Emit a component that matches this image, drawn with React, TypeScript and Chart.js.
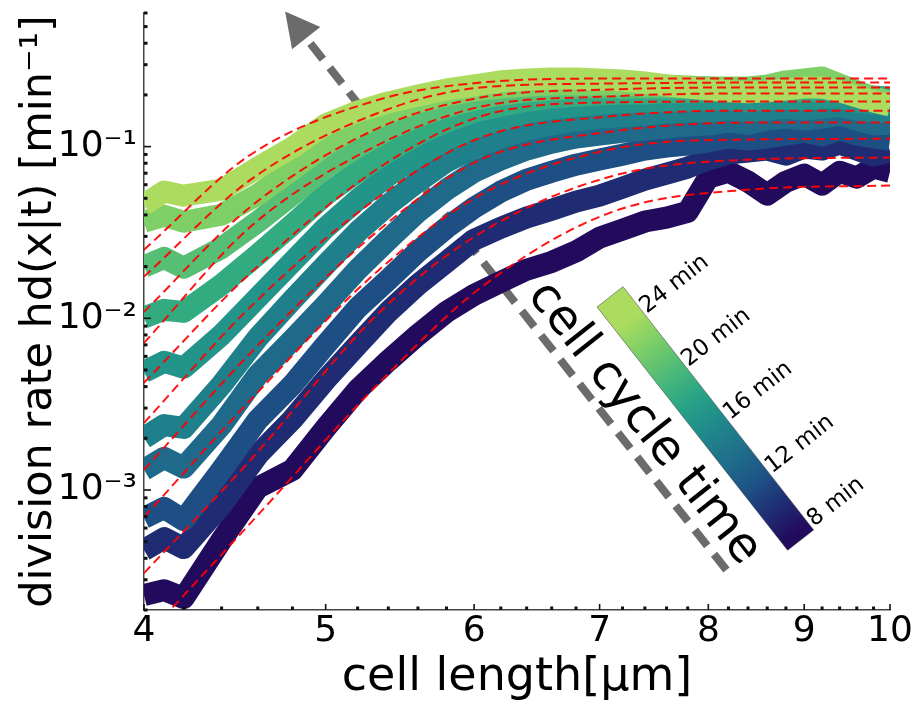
import React, { useEffect, useRef } from 'react';
import { Chart, registerables } from 'chart.js';

Chart.register(...registerables);

const FONT = '"DejaVu Sans", sans-serif';

// ---- axes ----
const X_TICKS = [4, 5, 6, 7, 8, 9, 10];
const X_TICK_LABELS = ['4', '5', '6', '7', '8', '9', '10'];
const X_MINOR = [4.2, 4.4, 4.6, 4.8, 5.2, 5.4, 5.6, 5.8, 6.2, 6.4, 6.6, 6.8, 7.2, 7.4, 7.6, 7.8, 8.2, 8.4, 8.6, 8.8, 9.2, 9.4, 9.6, 9.8];
const Y_TICKS = [0.001, 0.01, 0.1];
const Y_TICK_LABELS = ['10⁻³', '10⁻²', '10⁻¹'];
const Y_MINOR = [
  0.0002, 0.0003, 0.0004, 0.0005, 0.0006, 0.0007, 0.0008, 0.0009,
  0.002, 0.003, 0.004, 0.005, 0.006, 0.007, 0.008, 0.009,
  0.02, 0.03, 0.04, 0.05, 0.06, 0.07, 0.08, 0.09,
  0.2, 0.3, 0.4, 0.5, 0.6,
];
const X_MIN = 4;
const X_MAX = 10;
const Y_MIN = 0.0002;
const Y_MAX = 0.6;
const X_TITLE = 'cell length[μm]';
const Y_TITLE = 'division rate hd(x|t) [min⁻¹]';

// ---- measured division rates (cell length grid) ----
const X_VALUES = [4.0, 4.1, 4.2, 4.4, 4.6, 4.8, 5.0, 5.2, 5.4, 5.6, 5.8, 6.0, 6.2, 6.4, 6.6, 6.8, 7.0, 7.2, 7.4, 7.6, 7.8, 8.0, 8.2, 8.4, 8.6, 8.8, 9.0, 9.2, 9.4, 9.6, 9.8, 10.0];

const CYCLE_TIMES = [8, 9.8, 11.6, 13.3, 15.1, 16.9, 18.7, 20.4, 22.2, 24];

const RATE_T08 = [0.000244, 0.000261, 0.000235, 0.000511, 0.00103, 0.00131, 0.0023, 0.00383, 0.00565, 0.00801, 0.0109, 0.0137, 0.0163, 0.0192, 0.0213, 0.0245, 0.0295, 0.0328, 0.0366, 0.0386, 0.0417, 0.066, 0.0714, 0.0625, 0.0525, 0.0625, 0.0687, 0.06, 0.0714, 0.066, 0.0755, 0.0714];
const RATE_T10 = [0.000447, 0.000524, 0.000459, 0.000818, 0.0016, 0.00258, 0.00438, 0.007, 0.0109, 0.0157, 0.0213, 0.0287, 0.0337, 0.0386, 0.0429, 0.0478, 0.0518, 0.0577, 0.0642, 0.0696, 0.0755, 0.084, 0.091, 0.0935, 0.0961, 0.0898, 0.0987, 0.0961, 0.104, 0.0961, 0.0886, 0.0935];
const RATE_T12 = [0.000687, 0.000787, 0.000668, 0.00131, 0.00256, 0.0041, 0.007, 0.0115, 0.0168, 0.0245, 0.0337, 0.0441, 0.0547, 0.0642, 0.0714, 0.0785, 0.084, 0.0898, 0.0961, 0.1, 0.1027, 0.107, 0.113, 0.11, 0.113, 0.1175, 0.122, 0.116, 0.1257, 0.1175, 0.113, 0.11];
const RATE_T13 = [0.00131, 0.00154, 0.00135, 0.00239, 0.00468, 0.00749, 0.012, 0.0192, 0.0287, 0.0417, 0.0562, 0.0714, 0.084, 0.0961, 0.1055, 0.113, 0.1175, 0.122, 0.1257, 0.129, 0.1326, 0.1344, 0.14, 0.136, 0.1437, 0.1476, 0.1437, 0.1476, 0.1537, 0.1437, 0.1344, 0.136];
const RATE_T15 = [0.00201, 0.00239, 0.0023, 0.0041, 0.0077, 0.0128, 0.0205, 0.0319, 0.0459, 0.0625, 0.0818, 0.0987, 0.113, 0.1257, 0.1344, 0.142, 0.1476, 0.15, 0.1537, 0.158, 0.16, 0.16, 0.1644, 0.16, 0.1644, 0.169, 0.1644, 0.169, 0.173, 0.1644, 0.16, 0.16];
const RATE_T17 = [0.00488, 0.00558, 0.00515, 0.00801, 0.0132, 0.0213, 0.0337, 0.0491, 0.0678, 0.0886, 0.11, 0.129, 0.1437, 0.158, 0.167, 0.173, 0.178, 0.181, 0.183, 0.183, 0.185, 0.188, 0.188, 0.183, 0.188, 0.1905, 0.188, 0.193, 0.193, 0.183, 0.178, 0.178];
const RATE_T19 = [0.0101, 0.0112, 0.0109, 0.0157, 0.0235, 0.0351, 0.0525, 0.0714, 0.0935, 0.1175, 0.14, 0.16, 0.173, 0.1855, 0.193, 0.198, 0.201, 0.204, 0.204, 0.207, 0.207, 0.21, 0.21, 0.207, 0.21, 0.2123, 0.21, 0.2151, 0.21, 0.201, 0.1957, 0.193];
const RATE_T20 = [0.02, 0.0225, 0.0197, 0.0257, 0.0365, 0.0525, 0.0755, 0.1, 0.1257, 0.15, 0.171, 0.188, 0.201, 0.21, 0.2151, 0.221, 0.221, 0.221, 0.221, 0.221, 0.221, 0.221, 0.218, 0.2151, 0.221, 0.227, 0.224, 0.221, 0.2151, 0.201, 0.188, 0.178];
const RATE_T22 = [0.0365, 0.0396, 0.0365, 0.0401, 0.0525, 0.0734, 0.1027, 0.131, 0.158, 0.181, 0.1985, 0.2123, 0.221, 0.227, 0.23, 0.23, 0.23, 0.23, 0.227, 0.227, 0.224, 0.221, 0.221, 0.221, 0.227, 0.24, 0.246, 0.253, 0.23, 0.21, 0.193, 0.183];
const RATE_T24 = [0.0459, 0.0547, 0.0518, 0.0562, 0.0755, 0.0987, 0.1344, 0.16, 0.181, 0.1985, 0.2151, 0.227, 0.24, 0.246, 0.2495, 0.2495, 0.246, 0.2428, 0.2365, 0.227, 0.221, 0.2151, 0.21, 0.207, 0.21, 0.2151, 0.221, 0.221, 0.21, 0.1957, 0.183, 0.1735];

// ---- fitted curves (red dashed) ----
const FIT_X = [4.0, 4.56, 5.34, 6.05, 7.09, 8.42, 10.0];
const FIT_T08 = [0.000137, 0.000643, 0.00421, 0.0151, 0.0412, 0.0562, 0.0593];
const FIT_T10 = [0.000328, 0.0015, 0.0108, 0.0315, 0.0668, 0.084, 0.0863];
const FIT_T12 = [0.000696, 0.00335, 0.0192, 0.0525, 0.0961, 0.11, 0.111];
const FIT_T13 = [0.00131, 0.00629, 0.0328, 0.084, 0.122, 0.138, 0.138];
const FIT_T15 = [0.00246, 0.0117, 0.0511, 0.113, 0.15, 0.162, 0.162];
const FIT_T17 = [0.00421, 0.0184, 0.0754, 0.15, 0.181, 0.183, 0.183];
const FIT_T19 = [0.00719, 0.0342, 0.103, 0.171, 0.196, 0.204, 0.204];
const FIT_T20 = [0.0109, 0.0447, 0.129, 0.193, 0.215, 0.221, 0.221];
const FIT_T22 = [0.0175, 0.0642, 0.158, 0.221, 0.233, 0.236, 0.236];
const FIT_T24 = [0.0251, 0.0898, 0.188, 0.236, 0.249, 0.249, 0.249];

const RATE_SERIES = [RATE_T08, RATE_T10, RATE_T12, RATE_T13, RATE_T15, RATE_T17, RATE_T19, RATE_T20, RATE_T22, RATE_T24];
const FIT_SERIES = [FIT_T08, FIT_T10, FIT_T12, FIT_T13, FIT_T15, FIT_T17, FIT_T19, FIT_T20, FIT_T22, FIT_T24];
const SERIES_COLORS = ['#220a5d', '#1f2b73', '#1e4f84', '#1f6a8a', '#1f7f8b', '#23948a', '#33ab81', '#56be75', '#7fcf67', '#abdc5f'];

// ---- annotations ----
const ARROW_TAIL = [8.18, 0.000342];
const ARROW_TIP = [4.757, 0.613];
const ARROW_TEXT = 'cell cycle time';
const ARROW_TEXT_AT = [7.39, 0.00244];
const CB_TOP = [7.09, 0.01334];
const CB_BOTTOM = [8.96, 0.000511];
const CB_TICKS = [24, 20, 16, 12, 8];
const CB_TICK_LABELS = ['24 min', '20 min', '16 min', '12 min', '8 min'];
const CB_COLORS = ['#220a5d', '#1f2f75', '#1e5587', '#1f708b', '#20898b', '#27a386', '#4cba78', '#7acd68', '#abdc5f'];

const overlayPlugin = {
  id: 'overlay',
  beforeDatasetsDraw(chart: any) {
    const { ctx, scales } = chart;
    const x = scales.x;
    const y = scales.y;
    const tx = x.getPixelForValue(ARROW_TAIL[0]);
    const ty = y.getPixelForValue(ARROW_TAIL[1]);
    const hx = x.getPixelForValue(ARROW_TIP[0]);
    const hy = y.getPixelForValue(ARROW_TIP[1]);
    const dx = hx - tx;
    const dy = hy - ty;
    const len = Math.hypot(dx, dy);
    const ux = dx / len;
    const uy = dy / len;
    const headLen = 34;
    const headHalf = 18;
    const bx = hx - ux * headLen;
    const by = hy - uy * headLen;
    ctx.save();
    ctx.strokeStyle = '#6b6b6b';
    ctx.fillStyle = '#6b6b6b';
    ctx.lineWidth = 8;
    ctx.lineCap = 'butt';
    ctx.setLineDash([20, 11]);
    ctx.beginPath();
    ctx.moveTo(tx, ty);
    ctx.lineTo(bx, by);
    ctx.stroke();
    ctx.setLineDash([]);
    ctx.beginPath();
    ctx.moveTo(hx, hy);
    ctx.lineTo(bx - uy * headHalf, by + ux * headHalf);
    ctx.lineTo(bx + uy * headHalf, by - ux * headHalf);
    ctx.closePath();
    ctx.fill();
    ctx.restore();
  },
  afterDatasetsDraw(chart: any) {
    const { ctx, scales, chartArea: ca } = chart;
    const x = scales.x;
    const y = scales.y;

    // arrow label
    const tx = x.getPixelForValue(ARROW_TAIL[0]);
    const ty = y.getPixelForValue(ARROW_TAIL[1]);
    const hx = x.getPixelForValue(ARROW_TIP[0]);
    const hy = y.getPixelForValue(ARROW_TIP[1]);
    const ang = Math.atan2(ty - hy, tx - hx);
    ctx.save();
    ctx.translate(x.getPixelForValue(ARROW_TEXT_AT[0]), y.getPixelForValue(ARROW_TEXT_AT[1]));
    ctx.rotate(ang);
    ctx.font = `48px ${FONT}`;
    ctx.fillStyle = '#000';
    ctx.textAlign = 'center';
    ctx.textBaseline = 'middle';
    ctx.fillText(ARROW_TEXT, 0, 0);
    ctx.restore();

    // colour bar
    const p0x = x.getPixelForValue(CB_TOP[0]);
    const p0y = y.getPixelForValue(CB_TOP[1]);
    const p1x = x.getPixelForValue(CB_BOTTOM[0]);
    const p1y = y.getPixelForValue(CB_BOTTOM[1]);
    const L = Math.hypot(p1x - p0x, p1y - p0y);
    const ux = (p1x - p0x) / L;
    const uy = (p1y - p0y) / L;
    const nx = uy;
    const ny = -ux;
    const half = 16.5;
    const f0 = 0.097;
    const f1 = 0.974;
    const grad = ctx.createLinearGradient(p0x, p0y, p1x, p1y);
    grad.addColorStop(0, CB_COLORS[CB_COLORS.length - 1]);
    CB_COLORS.forEach((c: string, i: number) => {
      const t = i / (CB_COLORS.length - 1);
      grad.addColorStop(f1 - t * (f1 - f0), c);
    });
    grad.addColorStop(1, CB_COLORS[0]);
    ctx.save();
    ctx.fillStyle = grad;
    ctx.beginPath();
    ctx.moveTo(p0x - nx * half, p0y - ny * half);
    ctx.lineTo(p0x + nx * half, p0y + ny * half);
    ctx.lineTo(p1x + nx * half, p1y + ny * half);
    ctx.lineTo(p1x - nx * half, p1y - ny * half);
    ctx.closePath();
    ctx.fill();
    ctx.strokeStyle = 'rgba(40,40,40,0.6)';
    ctx.lineWidth = 0.8;
    ctx.stroke();
    const tAng = Math.atan2(ny, nx);
    ctx.font = `23px ${FONT}`;
    ctx.fillStyle = '#000';
    ctx.textAlign = 'left';
    ctx.textBaseline = 'middle';
    CB_TICKS.forEach((t: number, i: number) => {
      const along = L * (f0 + ((24 - t) / 16) * (f1 - f0));
      const px = p0x + ux * along + nx * (half + 2);
      const py = p0y + uy * along + ny * (half + 2);
      ctx.save();
      ctx.translate(px, py);
      ctx.rotate(tAng);
      ctx.fillText(CB_TICK_LABELS[i], 0, 0);
      ctx.restore();
    });
    ctx.restore();

    // inward tick marks
    ctx.save();
    ctx.strokeStyle = '#111';
    ctx.fillStyle = '#111';
    ctx.lineWidth = 1.6;
    Y_TICKS.forEach((v) => {
      const py = y.getPixelForValue(v);
      ctx.beginPath();
      ctx.moveTo(ca.left, py);
      ctx.lineTo(ca.left + 7, py);
      ctx.stroke();
    });
    Y_MINOR.forEach((v) => {
      const py = y.getPixelForValue(v);
      ctx.fillRect(ca.left, py - 1.5, 3.5, 3);
    });
    X_TICKS.forEach((v) => {
      const px = x.getPixelForValue(v);
      ctx.beginPath();
      ctx.moveTo(px, ca.bottom);
      ctx.lineTo(px, ca.bottom - 6);
      ctx.stroke();
    });
    X_MINOR.forEach((v) => {
      const px = x.getPixelForValue(v);
      ctx.fillRect(px - 1.5, ca.bottom - 3.5, 3, 3.5);
    });
    ctx.restore();
  },
};

export default function App() {
  const ref = useRef<HTMLCanvasElement>(null);
  useEffect(() => {
    if (!ref.current) return;
    const fitSets = FIT_SERIES.map((arr, i) => ({
      label: `fit ${CYCLE_TIMES[i]} min`,
      data: FIT_X.map((xv, j) => ({ x: xv, y: arr[j] })),
      borderColor: 'rgba(255,0,0,0.92)',
      borderWidth: 2,
      borderDash: [9, 5],
      pointRadius: 0,
      fill: false,
      cubicInterpolationMode: 'monotone' as const,
      clip: 0,
    }));
    const bandSets = RATE_SERIES.map((arr, i) => ({
      label: `${CYCLE_TIMES[i]} min`,
      data: X_VALUES.map((xv, j) => ({ x: xv, y: arr[j] })),
      borderColor: SERIES_COLORS[i],
      borderWidth: 22,
      borderJoinStyle: 'round' as const,
      pointRadius: 0,
      fill: false,
      tension: 0,
      clip: 0,
    })).reverse();
    const chart = new Chart(ref.current, {
      type: 'line',
      data: { datasets: [...fitSets, ...bandSets] as any },
      options: {
        responsive: false,
        animation: false,
        devicePixelRatio: 1,
        layout: { padding: { left: 0, right: 22, top: 13, bottom: 0 } },
        plugins: { legend: { display: false }, tooltip: { enabled: false } },
        scales: {
          x: {
            type: 'logarithmic',
            min: X_MIN,
            max: X_MAX,
            afterBuildTicks: (s: any) => {
              s.ticks = X_TICKS.map((v) => ({ value: v }));
            },
            afterFit: (s: any) => {
              s.height = 96;
              s.paddingLeft = 0;
              s.paddingRight = 0;
            },
            ticks: {
              autoSkip: false,
              maxRotation: 0,
              padding: 0,
              color: '#000',
              font: { family: FONT, size: 36 },
              callback: (_v: any, i: number) => X_TICK_LABELS[i],
            },
            grid: { display: false, drawTicks: false },
            border: { display: true, color: '#444', width: 1.5 },
            title: {
              display: true,
              text: X_TITLE,
              color: '#000',
              font: { family: FONT, size: 46 },
              padding: { top: 0, bottom: 0 },
            },
          },
          y: {
            type: 'logarithmic',
            min: Y_MIN,
            max: Y_MAX,
            afterBuildTicks: (s: any) => {
              s.ticks = Y_TICKS.map((v) => ({ value: v }));
            },
            afterFit: (s: any) => {
              s.width = 144;
              s.paddingTop = 0;
              s.paddingBottom = 0;
            },
            ticks: {
              autoSkip: false,
              padding: 7,
              color: '#000',
              font: { family: FONT, size: 36 },
              callback: (_v: any, i: number) => Y_TICK_LABELS[i],
            },
            grid: { display: false, drawTicks: false },
            border: { display: true, color: '#444', width: 1.5 },
            title: {
              display: true,
              text: Y_TITLE,
              color: '#000',
              font: { family: FONT, size: 43 },
              padding: { top: 14, bottom: 0 },
            },
          },
        },
      },
      plugins: [overlayPlugin],
    } as any);
    return () => chart.destroy();
  }, []);
  return (
    <div style={{ position: 'absolute', left: 0, top: 0, width: 912, height: 706, background: '#fff' }}>
      <canvas ref={ref} width={912} height={706} style={{ width: 912, height: 706, display: 'block' }} />
    </div>
  );
}
